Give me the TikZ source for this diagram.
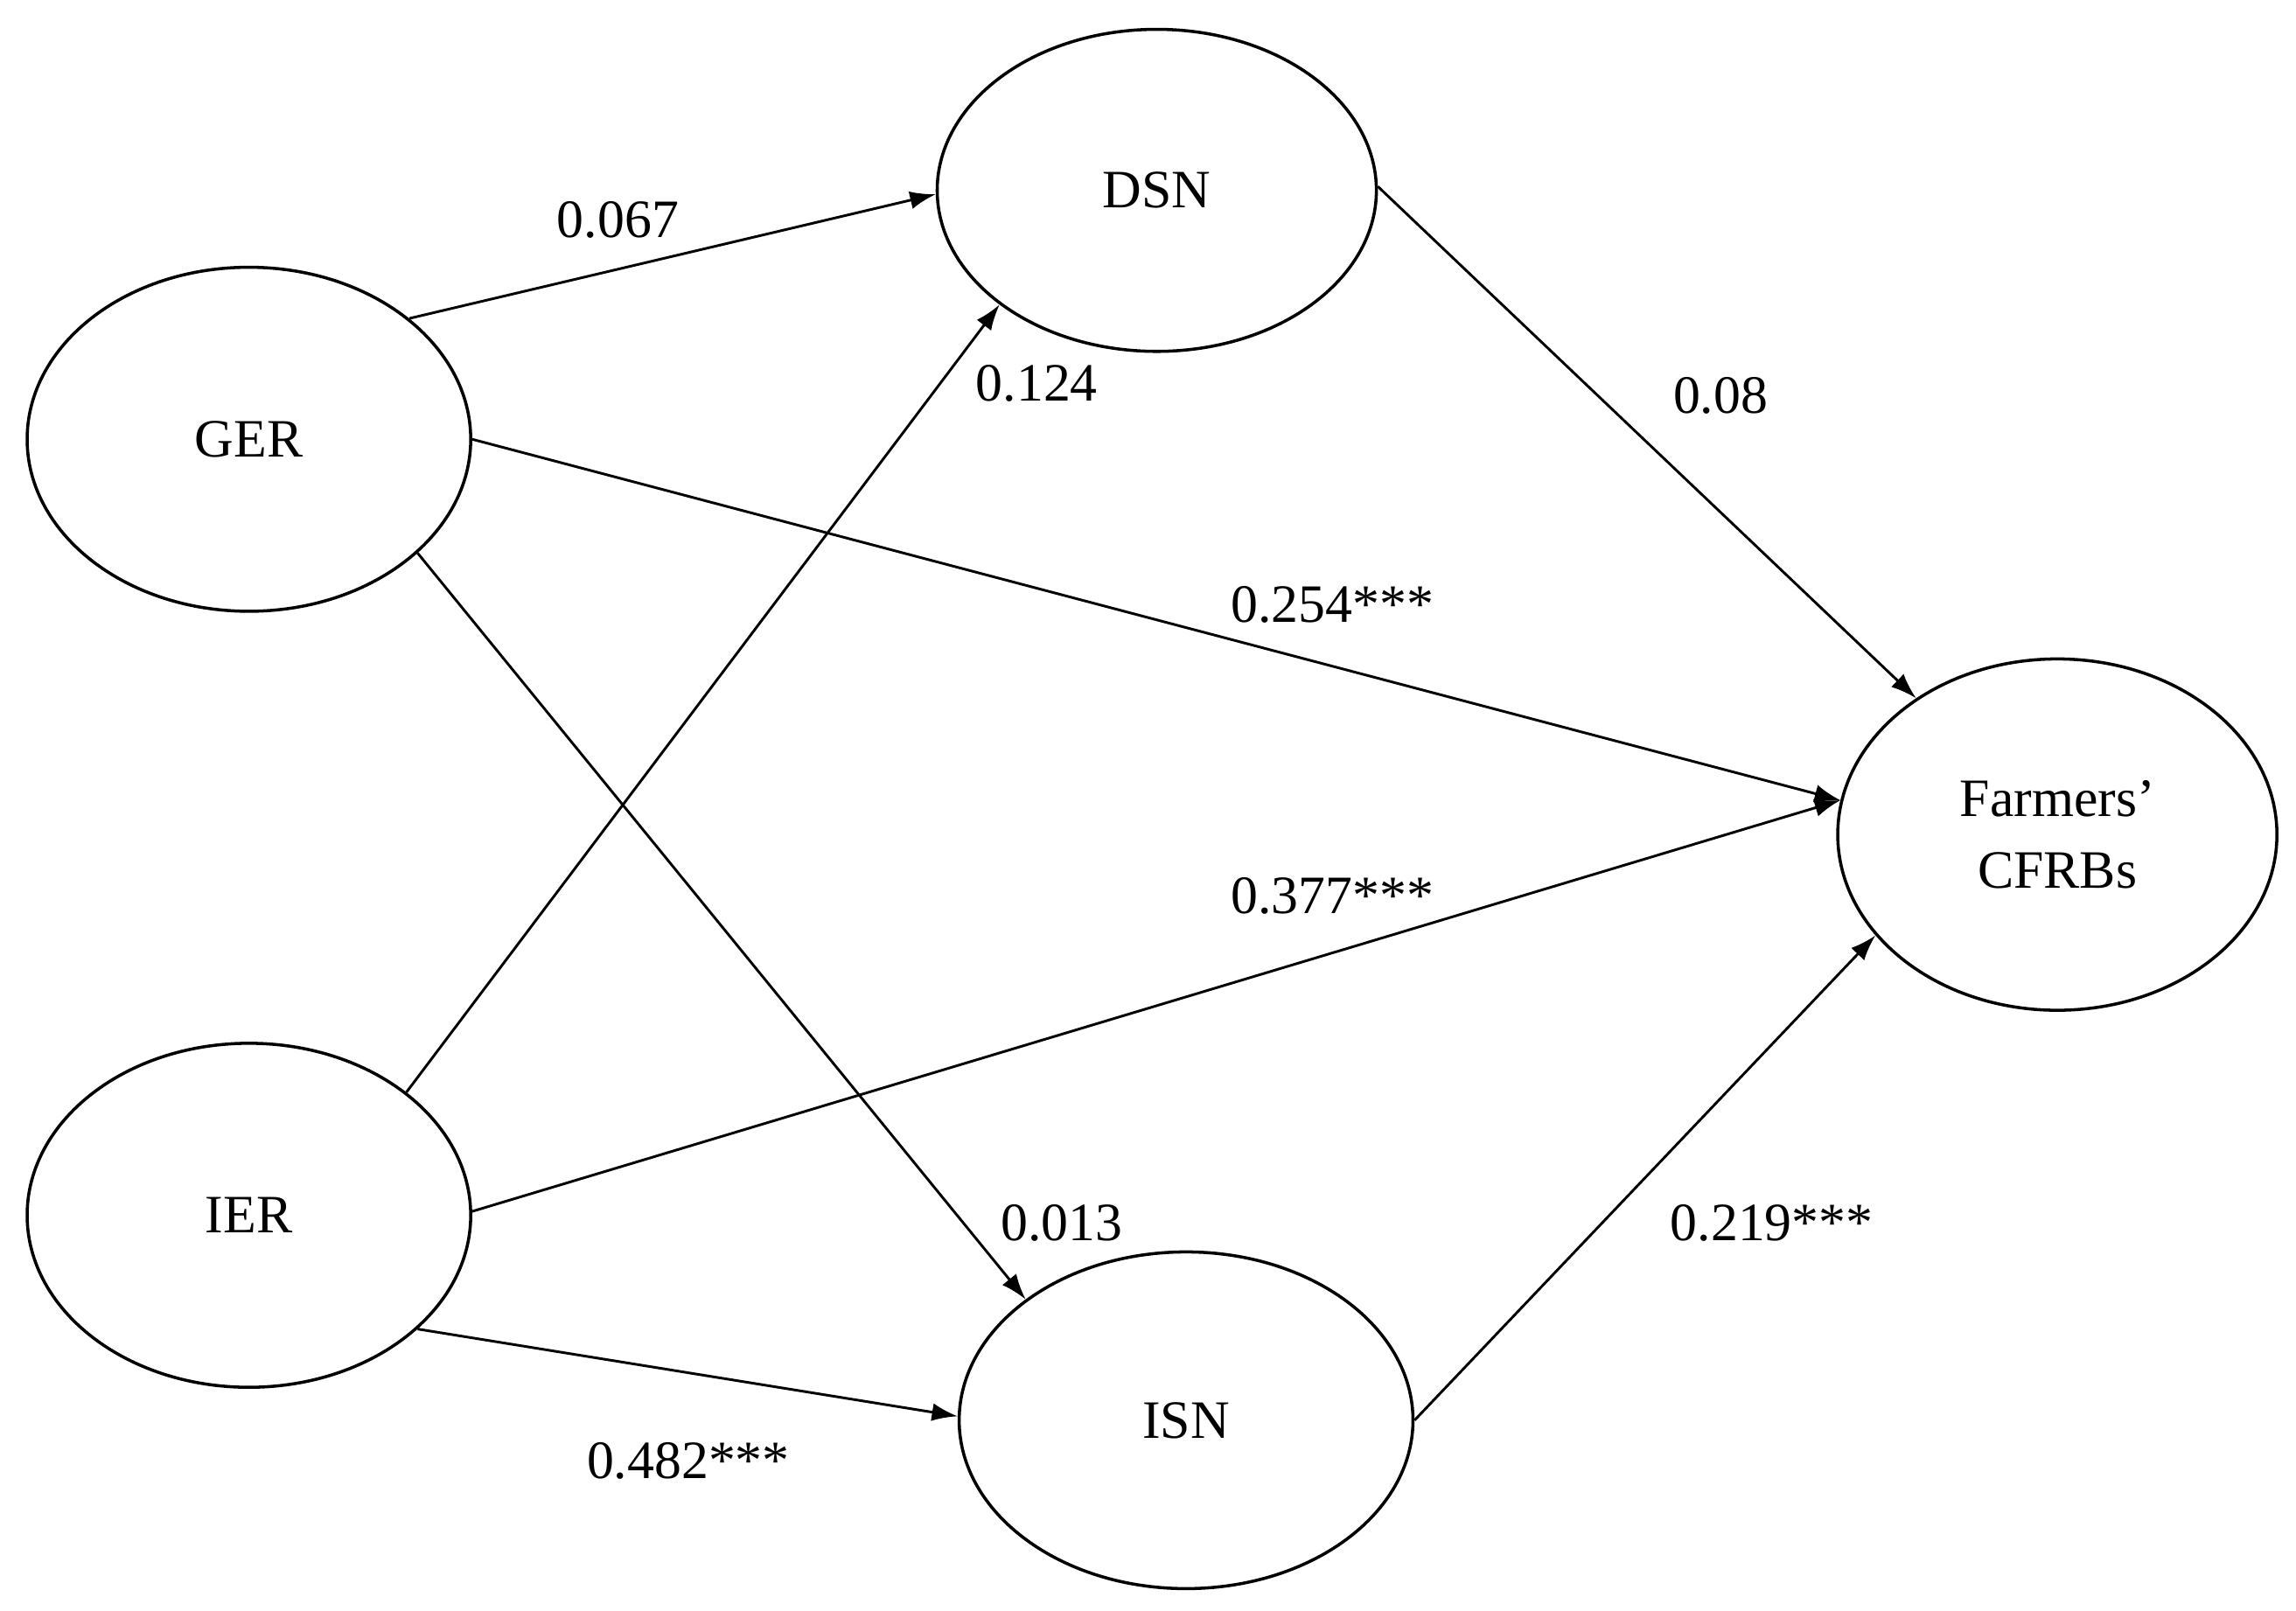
\documentclass[tikz,border=0pt]{standalone}
\usepackage{fontspec}
\setmainfont{Liberation Serif}
\usetikzlibrary{shapes.geometric,arrows.meta}
\begin{document}
\begin{tikzpicture}[x=0.02cm,y=-0.02cm,
  lat/.style={draw,ellipse,line width=1.2pt,minimum width=6.06cm,minimum height=4.7cm,inner sep=0pt,align=center,font=\fontsize{21}{28}\selectfont},
  arr/.style={line width=1pt,-{Latex[length=10pt,width=7pt]}},
  lab/.style={font=\fontsize{21}{25}\selectfont}]
\useasboundingbox (0,0) rectangle (1568,1100);
\node[lat] (GER) at (170,300) {GER};
\node[lat] (IER) at (170,830) {IER};
\node[lat,minimum width=6cm,minimum height=4.4cm] (DSN) at (790,130) {DSN};
\node[lat,minimum width=6.2cm,minimum height=4.6cm] (ISN) at (810,970) {ISN};
\node[lat,minimum width=6cm,minimum height=4.8cm] (F) at (1405,570) {Farmers’\\CFRBs};
\draw[arr] (GER.37) -- (DSN.181);
\draw[arr] (IER.38) -- (DSN.216);
\draw[arr] (GER.-34) -- (ISN.143);
\draw[arr] (IER.-34) -- (ISN.179);
\draw[arr] (GER.0) -- (F.171);
\draw[arr] (IER.1) -- (F.171);
\draw[arr] (DSN.1) -- (F.136);
\draw[arr] (ISN.0) -- (F.209);
\node[lab] (l1) at (422,150) {0.067};
\node[lab] (l2) at (708,262) {0.124};
\node[lab] (l3) at (725,835) {0.013};
\node[lab] (l4) at (470,998) {0.482***};
\node[lab] (l5) at (910,413) {0.254***};
\node[lab] (l6) at (910,612) {0.377***};
\node[lab] (l7) at (1175,270) {0.08};
\node[lab] (l8) at (1210,835) {0.219***};
\end{tikzpicture}
\end{document}
